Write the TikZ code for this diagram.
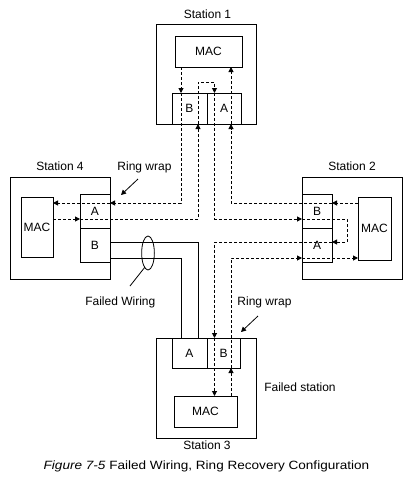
\documentclass[tikz,border=0pt]{standalone}
\usepackage{fontspec}
\setmainfont{Liberation Sans}
\usetikzlibrary{arrows.meta,shapes.geometric}
\begin{document}
\begin{tikzpicture}[x=1pt,y=-1pt,
  box/.style={draw,line width=1pt,inner sep=0pt,outer sep=0pt,rectangle,font=\fontsize{12}{14}\selectfont},
  lbl/.style={font=\fontsize{12}{14}\selectfont,inner sep=0pt,anchor=base},
  ring/.style={line width=1pt,dash pattern=on 3pt off 2pt},
  wire/.style={line width=1pt},
  pointer/.style={line width=0.8pt},
  tip/.style={-{Triangle[length=5pt,width=5pt]}},
]
\useasboundingbox (0,0) rectangle (413,490);
% station outlines
\node[box,minimum width=100pt,minimum height=100pt] (s1) at (206,74) {};
\node[box,minimum width=100pt,minimum height=102pt] (s4) at (60,228) {};
\node[box,minimum width=100pt,minimum height=102pt] (s2) at (352,228) {};
\node[box,minimum width=100pt,minimum height=100pt] (s3) at (206,388) {};
% station 1
\node[box,minimum width=67pt,minimum height=31pt] (mac1) at (208.5,51.5) {MAC};
\node[box,minimum width=35pt,minimum height=31pt] (b1) at (189.5,108.5) {B};
\node[box,minimum width=34pt,minimum height=31pt] (a1) at (224,108.5) {A};
% station 4
\node[box,minimum width=32pt,minimum height=60pt] (mac4) at (37,227) {MAC};
\node[box,minimum width=30pt,minimum height=34pt] (a4) at (95,211) {A};
\node[box,minimum width=30pt,minimum height=34pt] (b4) at (95,245) {B};
% station 2
\node[box,minimum width=33pt,minimum height=63pt] (mac2) at (374.5,228.5) {MAC};
\node[box,minimum width=30pt,minimum height=34pt] (b2) at (317,211) {B};
\node[box,minimum width=30pt,minimum height=34pt] (a2) at (317,245) {A};
% station 3
\node[box,minimum width=35pt,minimum height=30pt] (a3) at (189.5,353) {A};
\node[box,minimum width=33pt,minimum height=30pt] (b3) at (223.5,353) {B};
\node[box,minimum width=63pt,minimum height=31pt] (mac3) at (205.5,411.5) {MAC};
% guide coordinates
\coordinate (c1) at (181,0);
\coordinate (c2) at (198,0);
\coordinate (c3) at (214.5,0);
\coordinate (c4) at (231,0);
\coordinate (c5) at (347,0);
\coordinate (r0) at (0,82);
\coordinate (r1) at (0,203);
\coordinate (r2) at (0,219);
\coordinate (r3) at (0,242);
\coordinate (r4) at (0,258);
% ring: station 1 to station 4
\draw[ring,tip] (mac1.south -| c1) -- (b1.north -| c1);
\draw[ring,tip] (b1.north -| c1) -- (c1 |- r1) -- (a4.east |- r1);
\draw[ring,tip] (a4.east |- r1) -- (mac4.east |- r1);
% ring: station 4 through station 1 wrap to station 2 wrap to station 3
\draw[ring,tip] (mac4.east |- r2) -- (a4.west |- r2);
\draw[ring,tip] (a4.west |- r2) -- (c2 |- r2) -- (b1.south -| c2);
\draw[ring,tip] (b1.south -| c2) -- (c2 |- r0) -- (c3 |- r0) -- (a1.north -| c3);
\draw[ring,tip] (a1.north -| c3) -- (c3 |- r2) -- (b2.west |- r2);
\draw[ring,tip] (b2.west |- r2) -- (c5 |- r2) -- (c5 |- r3) -- (a2.east |- r3);
\draw[ring,tip] (a2.east |- r3) -- (c3 |- r3) -- (b3.north -| c3);
\draw[ring,tip] (b3.north -| c3) -- (mac3.north -| c3);
% ring: station 3 back to station 2 and station 1
\draw[ring,tip] (mac3.north -| c4) -- (b3.south -| c4);
\draw[ring,tip] (b3.south -| c4) -- (c4 |- r4) -- (a2.west |- r4);
\draw[ring,tip] (a2.west |- r4) -- (mac2.west |- r4);
\draw[ring,tip] (mac2.west |- r1) -- (b2.east |- r1);
\draw[ring,tip] (b2.east |- r1) -- (c4 |- r1) -- (a1.south -| c4);
\draw[ring,tip] (a1.south -| c4) -- (mac1.south -| c4);
% failed wiring
\draw[wire] (b4.east |- r3) -- (c2 |- r3) -- (a3.north -| c2);
\draw[wire] (b4.east |- r4) -- (c1 |- r4) -- (a3.north -| c1);
\node[draw,ellipse,line width=0.8pt,minimum width=12.7pt,minimum height=34pt,inner sep=0pt] (fw) at (148,253) {};
% labels
\node[lbl] (t1) at (207.5,18.5) {Station 1};
\node[lbl] (t4) at (60,170.7) {Station 4};
\node[lbl] (t2) at (352,170.7) {Station 2};
\node[lbl] (t3) at (207,449) {Station 3};
\node[lbl] (rw1) at (144.5,170.5) {Ring wrap};
\node[lbl] (rw2) at (264.5,305.5) {Ring wrap};
\node[lbl] (fwl) at (120.3,305) {Failed Wiring};
\node[lbl] (fst) at (300,391.5) {Failed station};
\node[lbl] (cap) at (206.5,469.5) {\scalebox{1.13}[1]{\textit{Figure 7-5} Failed Wiring, Ring Recovery Configuration}};
% pointers
\coordinate (p1s) at (138,179);
\coordinate (p1e) at (121,195);
\coordinate (p2s) at (258,316);
\coordinate (p2e) at (241,332);
\coordinate (p3s) at (145,267);
\coordinate (p3e) at (130,286);
\draw[pointer,tip] (p1s) -- (p1e);
\draw[pointer,tip] (p2s) -- (p2e);
\draw[pointer] (p3s) -- (p3e);
\end{tikzpicture}
\end{document}
